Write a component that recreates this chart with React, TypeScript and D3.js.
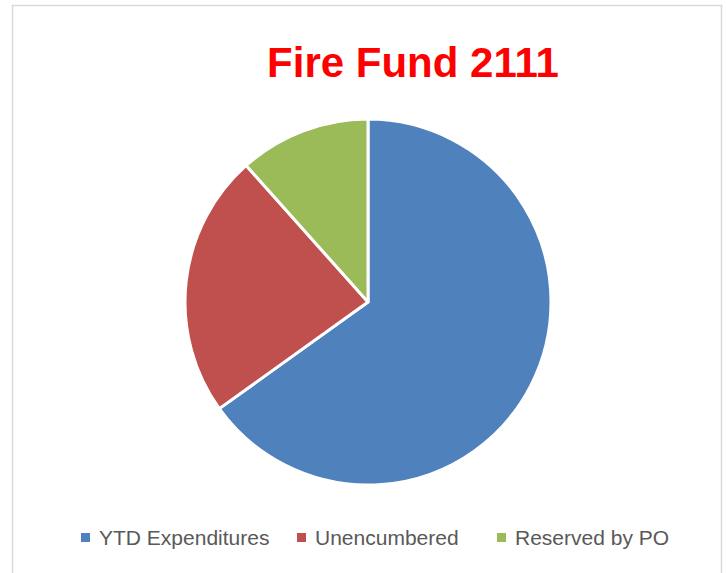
import React, { useEffect, useRef } from 'react';
import { select, pie, arc, PieArcDatum } from 'd3';

const categories = ['YTD Expenditures', 'Unencumbered', 'Reserved by PO'];
const values = [65.1, 23.3, 11.6];
const colors = ['#4F81BD', '#C0504D', '#9BBB59'];
const title = 'Fire Fund 2111';

const W = 726;
const H = 573;

function FirePie() {
    const svgRef = useRef<SVGSVGElement>(null);

    useEffect(() => {
        const svg = select(svgRef.current);
        svg.selectAll('*').remove();

        // chart frame
        svg.append('rect')
            .attr('x', 12.5).attr('y', 5.5)
            .attr('width', 709).attr('height', 600)
            .attr('fill', 'white')
            .attr('stroke', '#d9d9d9')
            .attr('stroke-width', 1.5);

        svg.append('text')
            .attr('x', 413).attr('y', 77)
            .attr('text-anchor', 'middle')
            .attr('font-family', 'Liberation Sans, Arial, sans-serif')
            .attr('font-weight', 'bold')
            .attr('font-size', 42)
            .attr('fill', '#FF0000')
            .text(title);

        const data = categories.map((c, i) => ({ name: c, value: values[i], color: colors[i] }));
        const pieFn = pie<typeof data[0]>().value(d => d.value).sort(null);
        const arcFn = arc<PieArcDatum<typeof data[0]>>().innerRadius(0).outerRadius(183);

        svg.append('g')
            .attr('transform', 'translate(368, 302)')
            .selectAll('path')
            .data(pieFn(data))
            .join('path')
            .attr('d', arcFn)
            .attr('fill', d => d.data.color)
            .attr('stroke', 'white')
            .attr('stroke-width', 3)
            .attr('stroke-linejoin', 'round');

        const legendX = [81, 297, 497];
        const legend = svg.append('g').attr('transform', 'translate(0, 545)');
        const items = legend.selectAll('g').data(data).join('g')
            .attr('transform', (d, i) => `translate(${legendX[i]}, 0)`);
        items.append('rect')
            .attr('x', 0).attr('y', -12)
            .attr('width', 9).attr('height', 9)
            .attr('fill', d => d.color);
        items.append('text')
            .attr('x', 18).attr('y', 0)
            .attr('font-family', 'Liberation Sans, Arial, sans-serif')
            .attr('font-size', 21)
            .attr('fill', '#595959')
            .text(d => d.name);
    }, []);

    return (
        <svg ref={svgRef} width={W} height={H}
            style={{ position: 'absolute', left: 0, top: 0, display: 'block' }} />
    );
}

export default function App() {
    return <FirePie />;
}
